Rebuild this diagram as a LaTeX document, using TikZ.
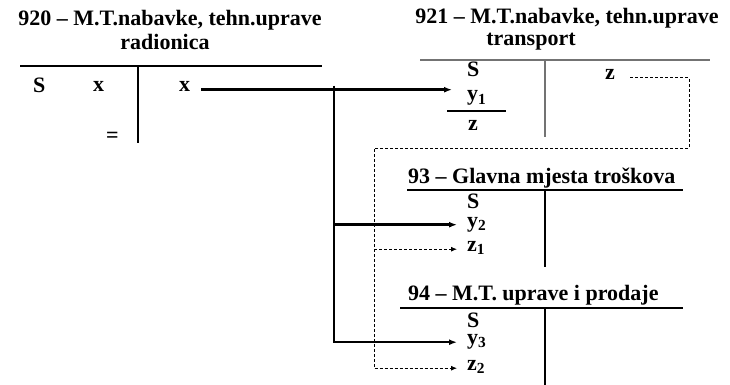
\documentclass[tikz,border=0pt]{standalone}
\usepackage{fontspec}
\setmainfont{Liberation Serif}
\usetikzlibrary{arrows.meta,positioning}
\begin{document}
\begin{tikzpicture}[x=1pt,y=1pt]
    \tikzstyle{every node}+=[inner sep=0pt,font=\fontsize{22}{25}\selectfont\bfseries]
    \tikzstyle{naslov}=[anchor=base]
    \tikzstyle{slovo}=[anchor=base west]
    \tikzstyle{konto}=[black,line width=1.2pt]
    \tikzstyle{kontosivi}=[black!55,line width=1.2pt]
    \tikzstyle{tok}=[black,line width=2.5pt,-{Latex[length=8pt,width=6pt]}]
    \tikzstyle{tokz}=[black,line width=0.8pt,dash pattern=on 3pt off 2pt,-{Latex[length=6pt,width=5pt]}]
    \useasboundingbox (0,0) rectangle (730,-385);
    \node [naslov] (n920) at (170,-26) {920 – M.T.nabavke, tehn.uprave};
    \node [naslov] (n920b) at (165,-50) {radionica};
    \draw [konto] (20,-66) -- (322,-66);
    \draw [konto] (138,-66) -- (138,-143);
    \node [slovo] (s920) at (33,-93) {S};
    \node [slovo] (xlijevo) at (93,-92) {x};
    \node [slovo] (xdesno) at (179,-92) {x};
    \node [slovo] (jednako) at (106,-142) {=};
    \node [naslov] (n921) at (567,-24) {921 – M.T.nabavke, tehn.uprave};
    \node [naslov] (n921b) at (531,-46) {transport};
    \draw [kontosivi] (420,-60) -- (710,-60);
    \draw [kontosivi] (545,-60) -- (545,-137);
    \draw [konto] (447,-111) -- (506,-111);
    \node [slovo] (s921) at (467,-77) {S};
    \node [slovo] (y1) at (467,-101) {y\textsubscript{1}};
    \node [slovo] (zlijevo) at (468,-130) {z};
    \node [slovo] (zdesno) at (605,-80) {z};
    \node [slovo] (n93) at (408,-183) {93 – Glavna mjesta troškova};
    \draw [konto] (407,-190) -- (683,-190);
    \draw [konto] (545,-190) -- (545,-267);
    \node [slovo] (s93) at (467,-208) {S};
    \node [slovo] (y2) at (467,-227) {y\textsubscript{2}};
    \node [slovo] (z1) at (467,-251.5) {z\textsubscript{1}};
    \node [slovo] (n94) at (408,-300) {94 – M.T. uprave i prodaje};
    \draw [konto] (400,-308) -- (683,-308);
    \draw [konto] (545,-308) -- (545,-385);
    \node [slovo] (s94) at (467,-327) {S};
    \node [slovo] (y3) at (467,-344.5) {y\textsubscript{3}};
    \node [slovo] (z2) at (467,-370.5) {z\textsubscript{2}};
    \coordinate (grana) at (334,-86);
    \coordinate (d1) at (689,-77);
    \coordinate (d2) at (374,-148);
    \draw [tok,shorten <=11pt,shorten >=15pt] (xdesno.mid east) -- (xdesno.mid east -| y1.west);
    \draw [tok,shorten >=10pt] (grana) |- (y2.mid west);
    \draw [tok,shorten >=10pt] (grana) |- (y3.mid west);
    \draw [tokz,shorten >=10pt] ([xshift=15pt]zdesno.mid east) -| (d1 |- d2) -- (d2) |- (z2.mid west);
    \draw [tokz,shorten >=10pt] (d2 |- z1.mid west) -- (z1.mid west);
\end{tikzpicture}
\end{document}
